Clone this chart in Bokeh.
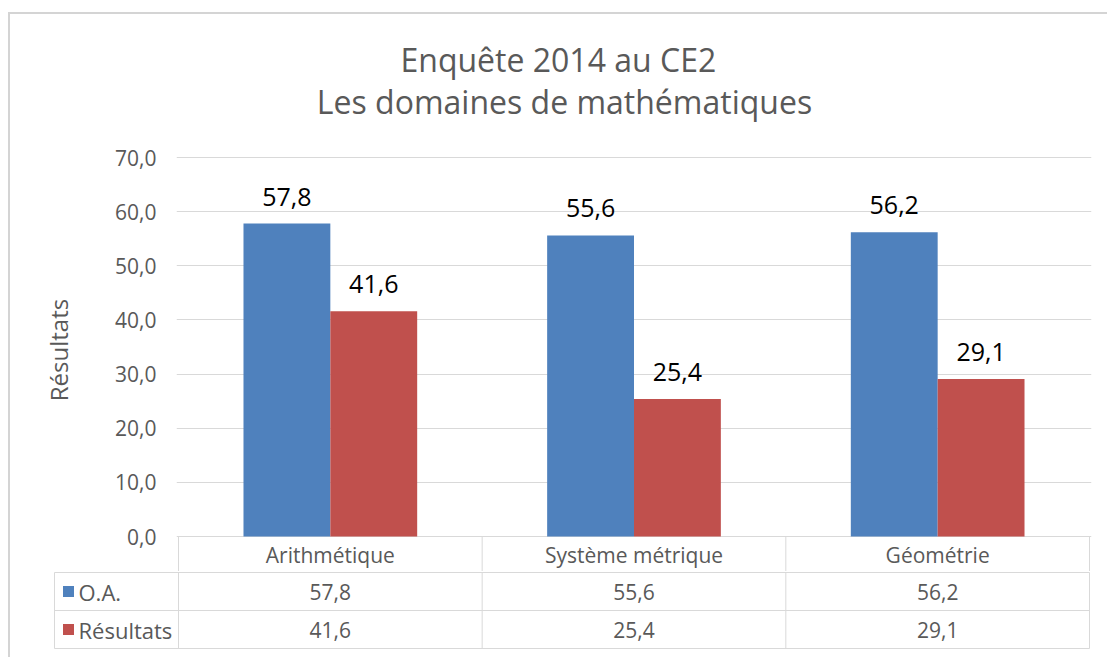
import numpy as np
from bokeh.plotting import figure
from bokeh.models import Range1d, FixedTicker, CustomJSTickFormatter
from bokeh.core.properties import value
from bokeh.embed import file_html
from bokeh.resources import INLINE

# ---- data ----
categories = ["Arithmétique", "Système métrique", "Géométrie"]
series_names = ["O.A.", "Résultats"]
oa = [57.8, 55.6, 56.2]
resultats = [41.6, 25.4, 29.1]
y_ticks = [0, 10, 20, 30, 40, 50, 60, 70]
title_lines = ["Enquête 2014  au CE2", "Les domaines de mathématiques"]
y_title = "Résultats"

# ---- style ----
BLUE = "#4F81BD"
RED = "#C0504D"
TXT = "#595959"
GRID = "#D9D9D9"
FONT = "Open Sans"
series_colors = [BLUE, RED]
series_values = [oa, resultats]
W = 1107
BORDER_CSS = "linear-gradient(#D4D4D4,#D4D4D4) no-repeat 8px 0px / 2px 100%"
TITLE_H = 128
TABLE_H = 86


def fmt(v):
    return f"{v:.1f}".replace(".", ",")


n = len(categories)
ns = len(series_names)
centers = np.arange(n) + 0.5
BAR_W = 0.286
PX_X = 303.67          # px per category
PX_Y = 5.414           # px per value unit
HEADER = 6.65          # header row depth in value units
ROW_PX = 38.0          # px per table row


def common(p):
    p.outline_line_color = None
    p.border_fill_color = None
    p.background_fill_color = None


# ---------------- title ----------------
ttl = figure(width=W, height=TITLE_H, x_range=Range1d(0, W), y_range=Range1d(TITLE_H, 0),
             output_backend="svg", toolbar_location=None,
             min_border_left=0, min_border_right=0, min_border_top=0, min_border_bottom=0)
common(ttl)
ttl.axis.visible = False
ttl.grid.visible = False
ttl.styles = {"background": "linear-gradient(#D4D4D4,#D4D4D4) no-repeat 8px 12px / 2px 100%, "
                            "linear-gradient(#D4D4D4,#D4D4D4) no-repeat 8px 12px / 100% 2px"}
ttl.text(x=[562, 564], y=[59, 101], text=title_lines,
         text_align="center", text_baseline="middle",
         text_font=value(FONT), text_font_size="32px", text_color=TXT)

# ---------------- chart ----------------
pad = 2 / PX_X
top = figure(width=W, height=571 - TITLE_H,
             x_range=Range1d(-pad, n + pad),
             y_range=Range1d(-(571 - 536) / PX_Y, (536 - TITLE_H) / PX_Y),
             output_backend="svg", toolbar_location=None,
             min_border_left=176, min_border_right=W - 1091,
             min_border_top=0, min_border_bottom=0)
common(top)
top.styles = {"background": BORDER_CSS}
top.xaxis.visible = False
top.xgrid.visible = False
top.ygrid.grid_line_color = GRID
top.ygrid.grid_line_width = 1

ya = top.yaxis[0]
ya.ticker = FixedTicker(ticks=y_ticks)
ya.formatter = CustomJSTickFormatter(code="return tick.toFixed(1).replace('.', ',');")
ya.axis_line_color = None
ya.major_tick_line_color = None
ya.minor_tick_line_color = None
ya.major_tick_out = 0
ya.major_tick_in = 0
ya.major_label_standoff = 20
ya.major_label_text_font = FONT
ya.major_label_text_font_size = "21px"
ya.major_label_text_color = TXT
ya.axis_label = y_title
ya.axis_label_text_font = FONT
ya.axis_label_text_font_style = "normal"
ya.axis_label_text_font_size = "24px"
ya.axis_label_text_color = TXT
ya.axis_label_standoff = 37

for k, (vals, col) in enumerate(zip(series_values, series_colors)):
    xs = centers + (k - (ns - 1) / 2) * BAR_W
    top.vbar(x=xs, top=vals, width=BAR_W, bottom=0,
             fill_color=col, line_color=None)
    top.text(x=xs, y=vals, text=[fmt(v) for v in vals],
             text_align="center", text_baseline="alphabetic", y_offset=-27,
             text_font=value(FONT), text_font_size="25px", text_color="#000000")

# header row of the data table (category names)
vx = list(np.arange(n + 1))
top.segment(x0=vx, y0=[0] * (n + 1), x1=vx, y1=[-HEADER - 2] * (n + 1),
            line_color=GRID, line_width=1)
top.text(x=centers, y=[-HEADER / 2] * n, text=categories,
         text_align="center", text_baseline="middle",
         text_font=value(FONT), text_font_size="21px", text_color=TXT)

# ---------------- data table rows ----------------
LEG_LEFT = (54 - 178) / PX_X
tbl = figure(width=W, height=TABLE_H,
             x_range=Range1d(-178 / PX_X, (W - 178) / PX_X),
             y_range=Range1d(ns - (TABLE_H - 1) / ROW_PX, ns + 1 / ROW_PX),
             output_backend="svg", toolbar_location=None,
             min_border_left=0, min_border_right=0, min_border_top=0, min_border_bottom=0)
common(tbl)
tbl.styles = {"background": BORDER_CSS}
tbl.axis.visible = False
tbl.grid.visible = False

rows = list(range(ns + 1))
tbl.segment(x0=[LEG_LEFT] * (ns + 1), y0=rows, x1=[n] * (ns + 1), y1=rows,
            line_color=GRID, line_width=1)
tbl.segment(x0=vx + [LEG_LEFT], y0=[0] * (n + 2), x1=vx + [LEG_LEFT], y1=[ns] * (n + 2),
            line_color=GRID, line_width=1)

for k, (name, vals, col) in enumerate(zip(series_names, series_values, series_colors)):
    yrow = ns - k - 0.5
    tbl.text(x=centers, y=[yrow] * n, text=[fmt(v) for v in vals],
             text_align="center", text_baseline="middle",
             text_font=value(FONT), text_font_size="21px", text_color=TXT)
    tbl.scatter(x=[(68 - 178) / PX_X], y=[yrow], marker="square", size=11,
                fill_color=col, line_color=None)
    tbl.text(x=[(78 - 178) / PX_X], y=[yrow], text=[name],
             text_align="left", text_baseline="middle",
             text_font=value(FONT), text_font_size="22px", text_color=TXT)

p = [ttl, top, tbl]
open("out.html", "w").write(file_html(p, INLINE))
